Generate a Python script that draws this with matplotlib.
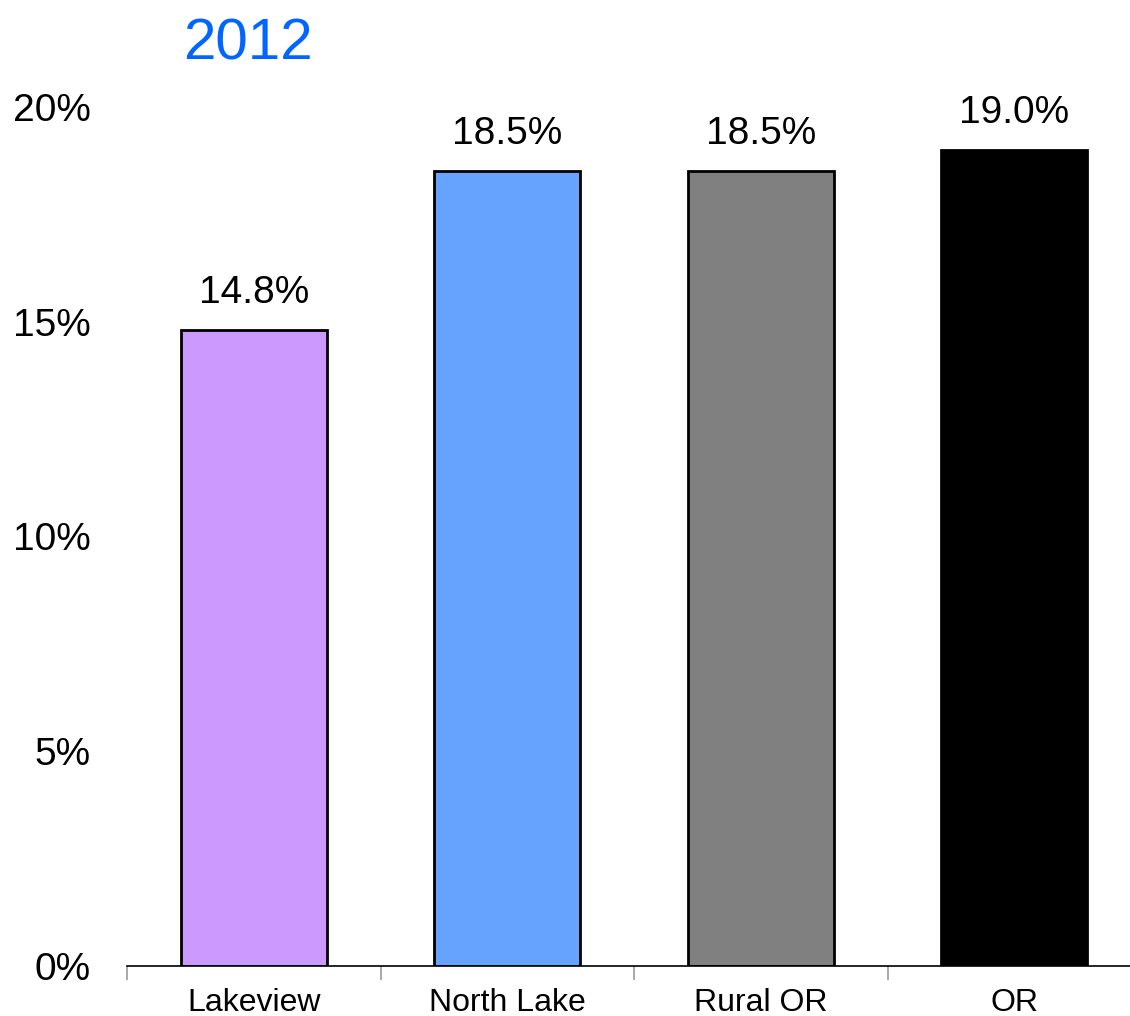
import matplotlib.pyplot as plt
from matplotlib.ticker import FixedLocator

plt.rcParams['font.family'] = ['Liberation Sans', 'DejaVu Sans']

categories = ["Lakeview", "North Lake", "Rural OR", "OR"]
values = [14.8, 18.5, 18.5, 19.0]
colors = ["#CC99FF", "#66A3FF", "#808080", "#000000"]
yticks = [0, 5, 10, 15, 20]

fig = plt.figure(figsize=(11.3, 10.16), dpi=100)
ax = fig.add_axes([127 / 1130, 50 / 1016, 1014 / 1130, 859 / 1016])

x = list(range(len(categories)))
bars = ax.bar(x, values, width=0.575, color=colors, edgecolor="black", linewidth=2)
for xi, v in zip(x, values):
    ax.annotate(f"{v:.1f}%", (xi, v), xytext=(0, 14), textcoords="offset points",
                ha="center", va="bottom", fontsize=28)

ax.set_xlim(-0.5, 3.5)
ax.set_ylim(0, 20)
ax.set_yticks(yticks)
ax.set_yticklabels([f"{t}%" for t in yticks], fontsize=28)
ax.set_xticks(x)
ax.set_xticklabels(categories, fontsize=23)
ax.xaxis.set_minor_locator(FixedLocator([-0.5, 0.5, 1.5, 2.5, 3.5]))
ax.tick_params(axis="x", which="major", length=0, pad=16)
ax.tick_params(axis="x", which="minor", length=10, color="#999999", width=1.2)
ax.tick_params(axis="y", length=0, pad=26)
for s in ["left", "right", "top"]:
    ax.spines[s].set_visible(False)
ax.spines["bottom"].set_linewidth(1.2)

fig.text(183 / 1130, 1 - 60 / 1016, "2012", color="#0066FF", fontsize=42, ha="left", va="baseline")

fig.savefig("out.png", dpi=100)
